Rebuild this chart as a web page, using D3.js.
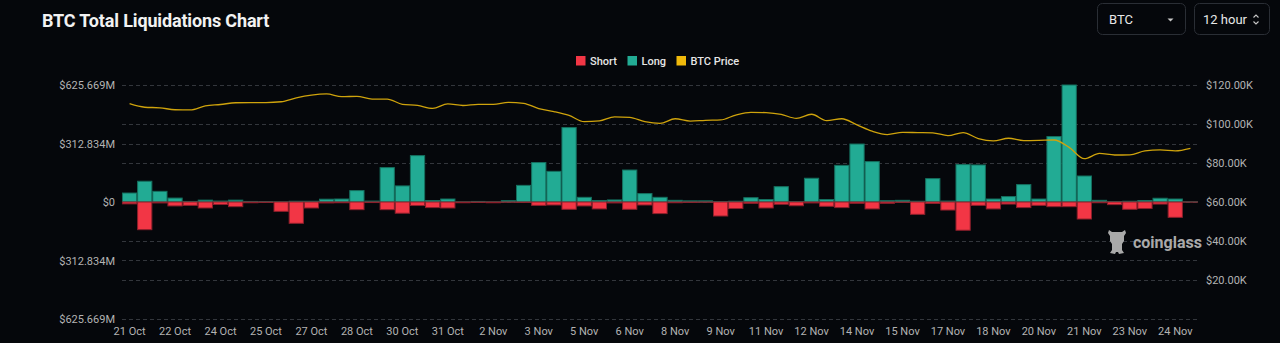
<!DOCTYPE html>
<html>
<head>
<meta charset="utf-8">
<script src="https://cdn.jsdelivr.net/npm/d3@7"></script>
<style>
  html, body { margin: 0; padding: 0; background: #05070b; }
  svg { display: block; }
</style>
</head>
<body>
<svg id="chart" width="1280" height="343"></svg>
<script>
// 12-hour buckets starting 21 Oct 00:00 (UTC)
const startDate = new Date(Date.UTC(2025, 9, 21, 0, 0));
const categories = d3.range(71).map(i => d3.utcHour.offset(startDate, 12 * i).toISOString());

// Long liquidations per bucket ($M)
const longLiq = [
  48, 111, 57, 21, 3, 10, 5, 10, 3, 2,
  1, 4, 4, 15, 16, 61, 5, 184, 86, 248,
  8, 16, 1, 3, 1, 7, 89, 211, 164, 398,
  25, 8, 11, 171, 45, 25, 9, 6, 6, 2,
  4, 23, 13, 82, 2, 127, 13, 196, 310, 216,
  7, 9, 4, 125, 5, 200, 198, 16, 29, 93,
  16, 350, 625.669, 139, 9, 2, 4, 8, 20, 16,
  1
];

// Short liquidations per bucket ($M), drawn below zero
const shortLiq = [
  10, 148, 5, 21, 18, 32, 13, 25, 4, 2,
  50, 114, 32, 5, 4, 41, 3, 41, 60, 19,
  30, 32, 4, 2, 4, 1, 2, 18, 16, 39,
  21, 37, 5, 39, 16, 62, 4, 2, 1, 75,
  35, 7, 32, 12, 20, 5, 23, 30, 7, 37,
  7, 2, 66, 8, 43, 151, 18, 37, 11, 30,
  18, 25, 25, 91, 4, 14, 39, 35, 11, 82,
  0.5
];

// BTC price per bucket ($K)
const btcPrice = [
  110.4, 108.6, 108.3, 107.3, 107.2, 109.3, 110.0, 110.9, 111.0, 111.0,
  111.4, 113.4, 114.8, 115.4, 114.0, 114.2, 112.8, 112.8, 110.1, 109.5,
  108.0, 110.3, 109.5, 110.1, 110.1, 111.1, 110.6, 107.9, 106.4, 104.4,
  101.2, 101.6, 103.7, 103.4, 101.2, 100.3, 102.7, 101.5, 101.9, 102.1,
  104.6, 106.0, 105.8, 104.9, 102.9, 105.0, 101.7, 102.7, 99.5, 96.3,
  94.6, 95.7, 95.6, 95.5, 94.0, 95.6, 92.5, 91.3, 92.7, 91.5,
  91.6, 91.8, 88.0, 82.2, 84.9, 84.1, 84.2, 86.2, 86.7, 86.2,
  87.5
];

// Tick labels
const xTickLabels = [
  "21 Oct", "22 Oct", "24 Oct", "25 Oct", "27 Oct", "28 Oct", "30 Oct", "31 Oct",
  "2 Nov", "3 Nov", "5 Nov", "6 Nov", "8 Nov", "9 Nov", "11 Nov", "12 Nov",
  "14 Nov", "15 Nov", "17 Nov", "18 Nov", "20 Nov", "21 Nov", "23 Nov", "24 Nov"
];
const leftTickValues = [-625.669, -312.834, 0, 312.834, 625.669];
const leftTickLabels = ["$625.669M", "$312.834M", "$0", "$312.834M", "$625.669M"];
const rightTickValues = [20, 40, 60, 80, 100, 120];
const rightTickLabels = ["$20.00K", "$40.00K", "$60.00K", "$80.00K", "$100.00K", "$120.00K"];

const legendItems = [
  { name: "Short", color: "#f23645" },
  { name: "Long", color: "#22ab94" },
  { name: "BTC Price", color: "#f0b90b" }
];

const svg = d3.select("#chart");
const W = 1280, H = 343;
const plot = { left: 122, right: 1198, top: 85, bottom: 319 };
const axisFont = "Roboto, 'Noto Sans', sans-serif";

svg.append("rect").attr("width", W).attr("height", H).attr("fill", "#05070b");

// Title
svg.append("text")
  .attr("x", 42).attr("y", 27)
  .attr("fill", "#f2f2f2")
  .attr("font-family", axisFont)
  .attr("font-weight", 700)
  .attr("font-size", 18)
  .attr("letter-spacing", -0.15)
  .text("BTC Total Liquidations Chart");

// Selector boxes
const ctrl = svg.append("g");
ctrl.append("rect").attr("x", 1097.5).attr("y", 3.5).attr("width", 88).attr("height", 31)
  .attr("rx", 5).attr("fill", "none").attr("stroke", "#2a2e35");
ctrl.append("text").attr("x", 1109).attr("y", 23.5).attr("fill", "#e8e8e8")
  .attr("font-family", axisFont).attr("font-size", 13).text("BTC");
ctrl.append("path").attr("d", "M1167.5,18.5 L1173.5,18.5 L1170.5,21.5 Z").attr("fill", "#c8c8c8");
ctrl.append("rect").attr("x", 1194.5).attr("y", 3.5).attr("width", 75).attr("height", 31)
  .attr("rx", 5).attr("fill", "none").attr("stroke", "#2a2e35");
ctrl.append("text").attr("x", 1203).attr("y", 23.5).attr("fill", "#e8e8e8")
  .attr("font-family", axisFont).attr("font-size", 13).text("12 hour");
ctrl.append("path").attr("d", "M1253.5,17.5 L1256,15 L1258.5,17.5 M1253.5,21.5 L1256,24 L1258.5,21.5")
  .attr("fill", "none").attr("stroke", "#c8c8c8").attr("stroke-width", 1.1);

// Legend
const legend = svg.append("g").attr("font-family", axisFont).attr("font-size", 11)
  .attr("font-weight", 500);
const legendX = [576, 627.5, 676.5];
legendItems.forEach((d, i) => {
  const g = legend.append("g").attr("transform", `translate(${legendX[i]},56)`);
  g.append("rect").attr("width", 9.5).attr("height", 9.5).attr("fill", d.color);
  g.append("text").attr("x", 14).attr("y", 8.5).attr("fill", "#e6e6e6").text(d.name);
});

// Scales
const x = d3.scaleBand().domain(categories).range([plot.left, plot.right])
  .paddingInner(0.06).paddingOuter(0.03);
const yL = d3.scaleLinear().domain([-625.669, 625.669]).range([plot.bottom, plot.top]);
const yR = d3.scaleLinear().domain([0, 120]).range([plot.bottom, plot.top]);

// Gridlines from both axes (deduplicated by pixel row)
const gridYs = Array.from(new Set(
  leftTickValues.map(v => Math.round(yL(v))).concat(rightTickValues.map(v => Math.round(yR(v))))
));
svg.append("g").selectAll("line").data(gridYs).join("line")
  .attr("x1", plot.left).attr("x2", plot.right)
  .attr("y1", d => d + 0.5).attr("y2", d => d + 0.5)
  .attr("stroke", "#33363c").attr("stroke-width", 1).attr("stroke-dasharray", "4,3");

// Bars
const bars = svg.append("g");
bars.selectAll("rect.long").data(categories).join("rect")
  .attr("class", "long")
  .attr("x", d => x(d)).attr("width", x.bandwidth())
  .attr("y", (d, i) => yL(longLiq[i]))
  .attr("height", (d, i) => yL(0) - yL(longLiq[i]))
  .attr("fill", "#22ab94").attr("stroke", "#15705f").attr("stroke-width", 1);
bars.selectAll("rect.short").data(categories).join("rect")
  .attr("class", "short")
  .attr("x", d => x(d)).attr("width", x.bandwidth())
  .attr("y", yL(0))
  .attr("height", (d, i) => yL(-shortLiq[i]) - yL(0))
  .attr("fill", "#f23645").attr("stroke", "#8c1f2b").attr("stroke-width", 1);

// Price line
const line = d3.line()
  .x((d, i) => x(categories[i]) + x.bandwidth() / 2)
  .y(d => yR(d))
  .curve(d3.curveMonotoneX);
svg.append("path").datum(btcPrice)
  .attr("d", line).attr("fill", "none")
  .attr("stroke", "#cfa30c").attr("stroke-width", 1.3);

// Left axis
const leftAxis = svg.append("g").attr("transform", `translate(${plot.left},0)`)
  .call(d3.axisLeft(yL).tickValues(leftTickValues).tickSize(0).tickPadding(7)
    .tickFormat((d, i) => leftTickLabels[i]));
leftAxis.select(".domain").remove();
leftAxis.selectAll("text").attr("fill", "#b3b3b3").attr("font-size", 11)
  .attr("font-family", axisFont);

// Right axis
const rightAxis = svg.append("g").attr("transform", `translate(${plot.right},0)`)
  .call(d3.axisRight(yR).tickValues(rightTickValues).tickSize(0).tickPadding(8)
    .tickFormat((d, i) => rightTickLabels[i]));
rightAxis.select(".domain").remove();
rightAxis.selectAll("text").attr("fill", "#b3b3b3").attr("font-size", 11)
  .attr("font-family", axisFont);

// Bottom axis: one label every third bucket
const tickCats = categories.filter((d, i) => i % 3 === 0);
const bottomAxis = svg.append("g").attr("transform", `translate(0,${plot.bottom})`)
  .call(d3.axisBottom(x).tickValues(tickCats).tickSize(0).tickPadding(8)
    .tickFormat((d, i) => xTickLabels[i]));
bottomAxis.select(".domain").remove();
bottomAxis.selectAll("text").attr("fill", "#b3b3b3").attr("font-size", 11)
  .attr("font-family", axisFont);

// Watermark
const wm = svg.append("g").attr("fill", "#a9a9a9");
wm.append("path").attr("transform", "translate(1107,229)")
  .attr("d", "M2,1 L5,3 L15,3 L18,1 L19,4 L17,7 L17,12 L15,15 L15,21 L17,24 L12,25 L11,23 L9,23 L8,25 L3,24 L5,21 L5,15 L3,12 L3,7 L1,4 Z");
wm.append("text").attr("x", 1133).attr("y", 247.5)
  .attr("font-family", axisFont).attr("font-weight", 700).attr("font-size", 16)
  .text("coinglass");
</script>
</body>
</html>
